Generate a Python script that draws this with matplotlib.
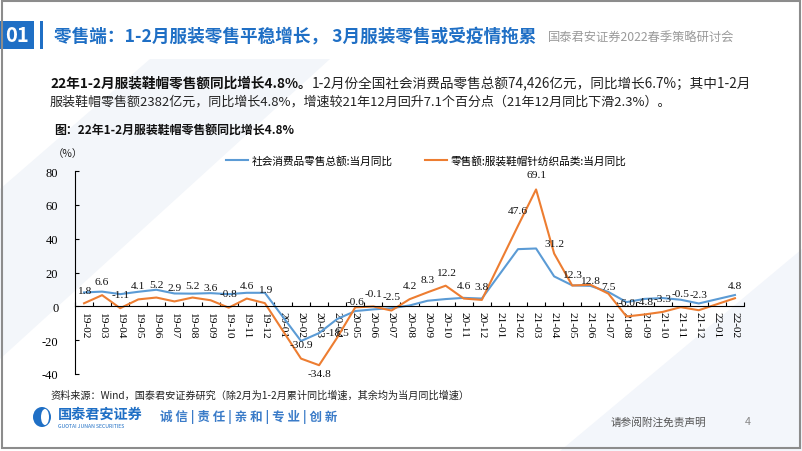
import numpy as np
import matplotlib
matplotlib.use("Agg")
from matplotlib import pyplot as plt
from matplotlib.patches import Rectangle, Polygon, Ellipse

plt.rcParams['font.family'] = ['Noto Sans CJK SC', 'DejaVu Sans']

# data (2月为1-2月累计同比, 1月无数据)
months = ['19-02', '19-03', '19-04', '19-05', '19-06', '19-07', '19-08', '19-09', '19-10', '19-11', '19-12',
          '20-01', '20-02', '20-03', '20-04', '20-05', '20-06', '20-07', '20-08', '20-09', '20-10', '20-11', '20-12',
          '21-01', '21-02', '21-03', '21-04', '21-05', '21-06', '21-07', '21-08', '21-09', '21-10', '21-11', '21-12',
          '22-01', '22-02']
retail_total = [8.2, 8.7, 7.2, 8.6, 9.8, 7.6, 7.5, 7.8, 7.2, 8.0, 8.0,
                np.nan, -20.5, -15.8, -7.5, -2.8, -1.8, -1.1, 0.5, 3.3, 4.3, 5.0, 4.6,
                np.nan, 33.8, 34.2, 17.7, 12.4, 12.1, 8.5, 2.5, 4.4, 4.9, 3.9, 1.7,
                np.nan, 6.7]
clothing = [1.8, 6.6, -1.1, 4.1, 5.2, 2.9, 5.2, 3.6, -0.8, 4.6, 1.9,
            np.nan, -30.9, -34.8, -18.5, -0.6, -0.1, -2.5, 4.2, 8.3, 12.2, 4.6, 3.8,
            np.nan, 47.6, 69.1, 31.2, 12.3, 12.8, 7.5, -6.0, -4.8, -3.3, -0.5, -2.3,
            np.nan, 4.8]

# where the value labels sit (y, data units)
label_y = [9.6, 14.4, 7.1, 12.4, 13.2, 11.2, 12.6, 11.4, 7.7, 12.6, 10,
           None, -22.5, -39.6, -15.4, 3, 7.7, 5.9, 12.4, 15.6, 20, 12.6, 12,
           None, 56.4, 78, 37.3, 18.9, 15, 12, 2.4, 3, 4.7, 7.7, 7.1,
           None, 12.6]

W, H = 802, 452
BLUE = '#1F6FC5'
fig = plt.figure(figsize=(W / 100, H / 100), dpi=100)
fig.patch.set_facecolor('white')


def fx(x):
    return x / W


def fy(y):
    return 1 - y / H


# faint background shapes
fig.add_artist(Polygon([(fx(0), fy(190)), (fx(150), fy(60)), (fx(330), fy(60)), (fx(0), fy(360))],
                       closed=True, facecolor='#F3F6FA', edgecolor='none', zorder=0))
fig.add_artist(Polygon([(fx(560), fy(452)), (fx(802), fy(250)), (fx(802), fy(452))],
                       closed=True, facecolor='#F3F6FB', edgecolor='none', zorder=0))
fig.add_artist(Rectangle((0.002, 0.006), 0.996, 0.99, transform=fig.transFigure, fill=False,
                         edgecolor='#8C8C8C', lw=1.5, zorder=5))

# header
fig.add_artist(Rectangle((fx(0), fy(50)), fx(34), 28 / H, transform=fig.transFigure,
                         facecolor=BLUE, edgecolor='none'))
fig.text(fx(17), fy(36), '01', color='white', fontsize=14.5, fontweight='bold',
         ha='center', va='center')
fig.add_artist(Rectangle((fx(40), fy(50)), fx(3), 28 / H, transform=fig.transFigure,
                         facecolor=BLUE, edgecolor='none'))
fig.text(fx(54), fy(36), '零售端：1-2月服装零售平稳增长， 3月服装零售或受疫情拖累', color=BLUE,
         fontsize=12.7, fontweight='bold', ha='left', va='center')
fig.text(fx(548), fy(37), '国泰君安证券2022春季策略研讨会', color='#9A9A9A', fontsize=8.8,
         ha='left', va='center')

# paragraph
t1 = fig.text(fx(50), fy(84), '22年1-2月服装鞋帽零售额同比增长4.8%。', fontsize=9.8,
              fontweight='bold', ha='left', va='center', color='#111111')
ax = fig.add_axes([fx(75), fy(375), 669 / W, 203 / H])
ax.annotate('1-2月份全国社会消费品零售总额74,426亿元，同比增长6.7%；其中1-2月', xy=(1, 0.5), xycoords=t1,
            fontsize=9.8, ha='left', va='center', color='#222222', annotation_clip=False)
fig.text(fx(50), fy(102), '服装鞋帽零售额2382亿元，同比增长4.8%，增速较21年12月回升7.1个百分点（21年12月同比下滑2.3%）。',
         fontsize=9.4, ha='left', va='center', color='#222222')
fig.text(fx(54), fy(130), '图：22年1-2月服装鞋帽零售额同比增长4.8%', fontsize=8.6, fontweight='bold',
         ha='left', va='center', color='#111111')

# chart
x = np.arange(len(months))
rt = np.array(retail_total, dtype=float)
cl = np.array(clothing, dtype=float)
ok_rt = ~np.isnan(rt)
ok_cl = ~np.isnan(cl)
ax.plot(x[ok_rt], rt[ok_rt], color='#5B9BD5', lw=1.5, label='社会消费品零售总额:当月同比')
ax.plot(x[ok_cl], cl[ok_cl], color='#ED7D31', lw=1.5, label='零售额:服装鞋帽针纺织品类:当月同比')

serif = 'Liberation Serif'
for i, v in enumerate(clothing):
    if label_y[i] is None or np.isnan(v):
        continue
    ax.text(i, label_y[i], f'{v:.1f}', ha='center', va='center', fontsize=8.2, family=serif,
            color='#111111')

ax.set_xlim(-0.5, len(months) - 0.5)
ax.set_ylim(-40, 80)
ax.set_facecolor('none')
for s in ['top', 'right']:
    ax.spines[s].set_visible(False)
ax.spines['bottom'].set_position(('data', 0))
ax.spines['bottom'].set_linewidth(0.8)
ax.spines['left'].set_linewidth(0.8)
ax.set_yticks(np.arange(-40, 81, 20))
ax.set_yticklabels([str(v) for v in range(-40, 81, 20)], family=serif, fontsize=9)
ax.tick_params(axis='y', direction='in', length=3, width=0.8, pad=12)
ax.set_xticks(x)
ax.set_xticklabels(months, rotation=-90, family=serif, fontsize=8.2, ha='center', va='top')
ax.set_xticks(np.arange(-0.5, len(months), 1), minor=True)
ax.tick_params(axis='x', which='major', length=0, pad=3)
ax.tick_params(axis='x', which='minor', direction='in', length=3, width=0.8)

fig.text(fx(68), fy(154), '（%）', fontsize=7.5, ha='center', va='center', color='#222222')
ax.legend(loc='center left', bbox_to_anchor=(fx(226), fy(161)), bbox_transform=fig.transFigure,
          ncol=2, frameon=False, fontsize=7.7, handlelength=2.1, handletextpad=0.3,
          columnspacing=3.0, borderpad=0, borderaxespad=0)

# footer
fig.text(fx(50), fy(396), '资料来源：Wind，国泰君安证券研究（除2月为1-2月累计同比增速，其余均为当月同比增速）',
         fontsize=7.3, ha='left', va='center', color='#222222')
fig.add_artist(Ellipse((fx(42), fy(418)), 18 / W, 20 / H, transform=fig.transFigure,
                       facecolor=BLUE, edgecolor='none'))
fig.add_artist(Ellipse((fx(45), fy(418)), 8 / W, 16 / H, transform=fig.transFigure,
                       facecolor='white', edgecolor='none'))
fig.text(fx(58), fy(415), '国泰君安证券', fontsize=10.2, fontweight='bold', color=BLUE,
         ha='left', va='center')
fig.text(fx(58), fy(427), 'GUOTAI JUNAN SECURITIES', fontsize=3.7, color=BLUE,
         ha='left', va='center')
fig.text(fx(160), fy(417), '诚 信 | 责 任 | 亲 和 | 专 业 | 创 新', fontsize=9, fontweight='bold',
         color='#3A7BC8', ha='left', va='center')
fig.text(fx(611), fy(422), '请参阅附注免责声明', fontsize=7.7, color='#555555', ha='left', va='center')
fig.text(fx(748), fy(422), '4', fontsize=7.7, color='#888888', ha='center', va='center')

fig.savefig('out.png', dpi=100)
